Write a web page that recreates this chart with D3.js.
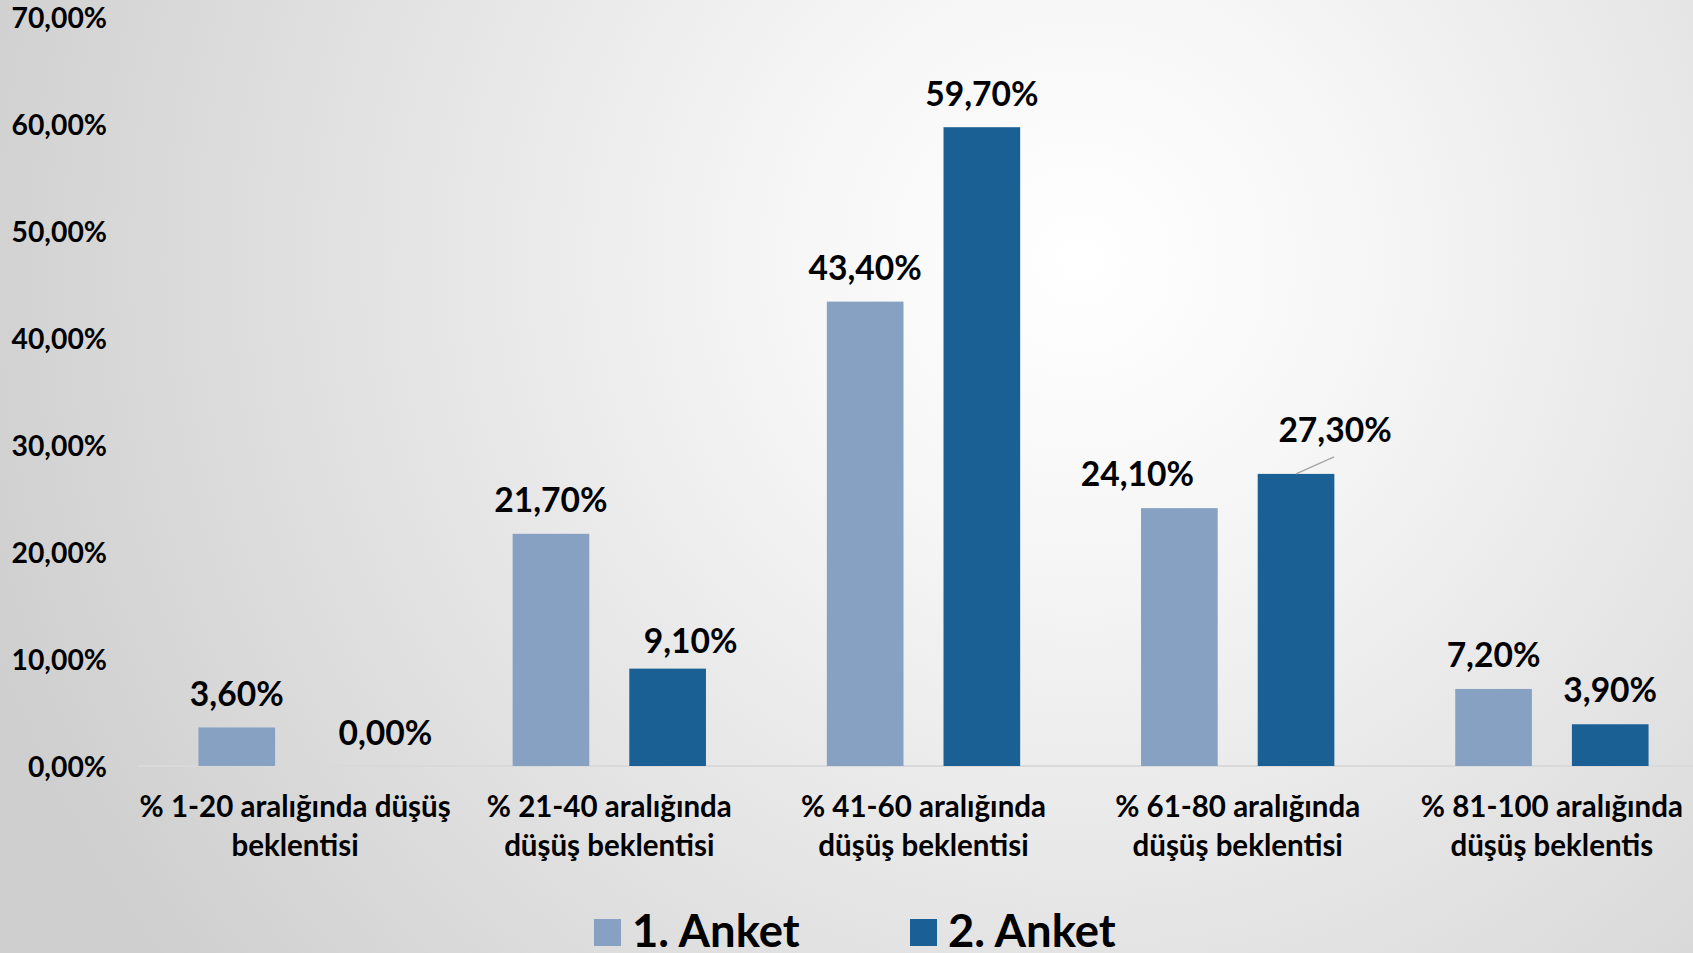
<!DOCTYPE html>
<html>
<head>
<meta charset="utf-8">
<script src="https://cdn.jsdelivr.net/npm/d3@7"></script>
<style>
  html, body { margin: 0; padding: 0; overflow: hidden; }
  svg { display: block; font-family: Lato, "Open Sans", sans-serif; font-weight: bold; }
</style>
</head>
<body>
<svg id="chart" width="1693" height="953"></svg>
<script>
// categories, two lines each
var categoryLines = [
  ["% 1-20 aralığında düşüş", "beklentisi"],
  ["% 21-40 aralığında", "düşüş beklentisi"],
  ["% 41-60 aralığında", "düşüş beklentisi"],
  ["% 61-80 aralığında", "düşüş beklentisi"],
  ["% 81-100 aralığında", "düşüş beklentis"]
];
var seriesNames = ["1. Anket", "2. Anket"];
var anket1 = [3.6, 21.7, 43.4, 24.1, 7.2];
var anket2 = [0.0, 9.1, 59.7, 27.3, 3.9];
var yTicks = [0, 10, 20, 30, 40, 50, 60, 70];
var colors = ["#87a1c2", "#1b6094"];

var svg = d3.select("#chart"),
  W = +svg.attr("width"),
  H = +svg.attr("height");

// background radial gradient
var defs = svg.append("defs");
var grad = defs.append("radialGradient")
  .attr("id", "bg")
  .attr("gradientUnits", "userSpaceOnUse")
  .attr("cx", 1080).attr("cy", 260).attr("r", 1150);
grad.append("stop").attr("offset", "0").attr("stop-color", "#ffffff");
grad.append("stop").attr("offset", "0.25").attr("stop-color", "#f6f6f6");
grad.append("stop").attr("offset", "1").attr("stop-color", "#cfcfcf");
svg.append("rect").attr("width", W).attr("height", H).attr("fill", "url(#bg)");

var data = categoryLines.map(function(c, i) {
  return { idx: i, values: [anket1[i], anket2[i]] };
});

var x = d3.scaleBand()
  .domain(d3.range(categoryLines.length))
  .range([138, 1709]);

var xs = d3.scaleBand()
  .domain([0, 1])
  .range([0, x.bandwidth()])
  .paddingInner(0.343)
  .paddingOuter(0.518);

var y = d3.scaleLinear().domain([0, 70]).range([766, 17]);

var fmt = function(v) { return v.toFixed(2).replace(".", ",") + "%"; };

// y axis labels
var yAxis = d3.axisLeft(y)
  .tickValues(yTicks)
  .tickFormat(fmt)
  .tickSize(0)
  .tickPadding(0);

var yg = svg.append("g")
  .attr("transform", "translate(107,0)")
  .call(yAxis);
yg.select(".domain").remove();
yg.selectAll("text")
  .attr("fill", "#000")
  .style("font-family", "Lato, sans-serif")
  .style("font-weight", "bold")
  .style("font-size", "28.3px")
  .attr("dy", "0.36em");

// baseline
svg.append("line")
  .attr("x1", 138).attr("x2", W)
  .attr("y1", y(0)).attr("y2", y(0))
  .attr("stroke", "#d9d9d9")
  .attr("stroke-width", 2);

// bars
var groups = svg.append("g").selectAll("g")
  .data(data)
  .join("g")
  .attr("transform", function(d) { return "translate(" + x(d.idx) + ",0)"; });

groups.selectAll("rect")
  .data(function(d) { return d.values.map(function(v, s) { return { s: s, v: v }; }); })
  .join("rect")
  .attr("x", function(d) { return xs(d.s); })
  .attr("width", xs.bandwidth())
  .attr("y", function(d) { return y(d.v); })
  .attr("height", function(d) { return y(0) - y(d.v); })
  .attr("fill", function(d) { return colors[d.s]; });

// data labels (some were moved by hand in the original)
var labelShift = [[0, 32], [0, 23], [0, 0], [-42, 39], [0, 0]];
var labelRaise = [[21, 21], [22, 16], [22, 21], [22, 32], [22, 22]];

groups.each(function(d) {
  var g = d3.select(this);
  d.values.forEach(function(v, s) {
    var cx = xs(s) + xs.bandwidth() / 2;
    var dx = labelShift[d.idx][s];
    var ly = y(v) - labelRaise[d.idx][s];
    if (labelRaise[d.idx][s] > 25) {
      g.append("line")
        .attr("x1", cx).attr("y1", y(v))
        .attr("x2", cx + dx - 1).attr("y2", y(v) - 17)
        .attr("stroke", "#a6a6a6")
        .attr("stroke-width", 1.5);
    }
    g.append("text")
      .attr("x", cx + dx)
      .attr("y", ly)
      .attr("text-anchor", "middle")
      .style("font-size", "33.6px")
      .attr("fill", "#000")
      .text(fmt(v));
  });
});

// category labels
var catg = svg.append("g").selectAll("text")
  .data(categoryLines)
  .join("text")
  .attr("text-anchor", "middle")
  .style("font-size", "29.5px")
  .attr("fill", "#000");
catg.selectAll("tspan")
  .data(function(d, i) { return d.map(function(t, k) { return { t: t, k: k, i: i }; }); })
  .join("tspan")
  .attr("x", function(d) { return x(d.i) + x.bandwidth() / 2; })
  .attr("y", function(d) { return 817 + d.k * 39; })
  .text(function(d) { return d.t; });

// legend
var legendX = [594, 910];
var leg = svg.append("g").selectAll("g")
  .data(seriesNames)
  .join("g")
  .attr("transform", function(d, i) { return "translate(" + legendX[i] + ",919)"; });
leg.append("rect")
  .attr("width", 27).attr("height", 27)
  .attr("fill", function(d, i) { return colors[i]; });
leg.append("text")
  .attr("x", 38).attr("y", 28)
  .style("font-size", "45.4px")
  .attr("fill", "#000")
  .text(function(d) { return d; });
</script>
</body>
</html>
